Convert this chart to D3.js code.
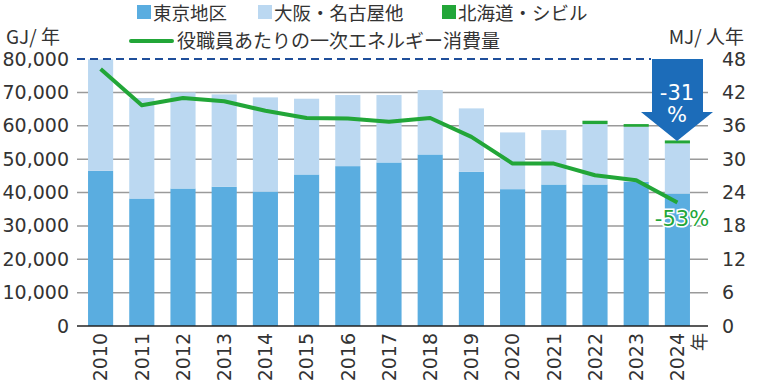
<!DOCTYPE html>
<html lang="ja">
<head>
<meta charset="UTF-8">
<title>エネルギー消費量</title>
<script src="https://d3js.org/d3.v7.min.js"></script>
<style>
    body { margin: 0; background: #fff; }
    svg text { font-family: 'DejaVu Sans', sans-serif; fill: #333; }
    .jp { font-family: 'Noto Sans CJK JP', sans-serif; }
</style>
</head>
<body>
<div id="chart"></div>
<script>
// data
const years = ["2010","2011","2012","2013","2014","2015","2016","2017","2018","2019","2020","2021","2022","2023","2024"];
const tokyo    = [46500, 38200, 41200, 41700, 40300, 45400, 47900, 49000, 51400, 46200, 41000, 42400, 42400, 43200, 39700];
const osaka    = [33400, 30100, 28800, 27700, 28200, 22700, 21300, 20200, 19300, 19000, 17000, 16300, 18100, 16500, 15000];
const hokkaido = [0, 0, 0, 0, 0, 0, 0, 0, 0, 0, 0, 0, 1000, 800, 900];
const perPerson = [46.2, 39.7, 41.0, 40.4, 38.7, 37.4, 37.3, 36.7, 37.4, 34.0, 29.2, 29.2, 27.1, 26.2, 22.2];
const leftTicks = [0, 10000, 20000, 30000, 40000, 50000, 60000, 70000, 80000];
const rightTicks = [0, 6, 12, 18, 24, 30, 36, 42, 48];
const seriesNames = ["東京地区", "大阪・名古屋他", "北海道・シビル"];
const lineName = "役職員あたりの一次エネルギー消費量";

const colors = ["#5aade0", "#bbd8f1", "#22a638"];
const lineColor = "#22a638";

const width = 760, height = 391;
const plotLeft = 77, plotRight = 708, plotTop = 59, plotBottom = 326;

const svg = d3.select("#chart").append("svg")
    .attr("width", width)
    .attr("height", height);

const x = d3.scaleBand().domain(years).range([80, 698]).paddingInner(0.39).paddingOuter(0.195);
const y = d3.scaleLinear().domain([0, 80000]).range([plotBottom, plotTop]);
const y2 = d3.scaleLinear().domain([0, 48]).range([plotBottom, plotTop]);

// grid lines
svg.append("g").selectAll("line")
    .data(leftTicks.filter(d => d > 0 && d < 80000))
    .join("line")
    .attr("x1", plotLeft).attr("x2", plotRight)
    .attr("y1", d => y(d)).attr("y2", d => y(d))
    .attr("stroke", "#9a9a9a").attr("stroke-width", 1.5);

// stacked bars
const rows = years.map((yr, i) => ({year: yr, tokyo: tokyo[i], osaka: osaka[i], hokkaido: hokkaido[i]}));
const stack = d3.stack().keys(["tokyo", "osaka", "hokkaido"])(rows);

svg.append("g").selectAll("g")
    .data(stack)
    .join("g")
    .attr("fill", (d, i) => colors[i])
    .selectAll("rect")
    .data(d => d)
    .join("rect")
    .attr("x", d => x(d.data.year))
    .attr("width", x.bandwidth())
    .attr("y", d => y(d[1]))
    .attr("height", d => y(d[0]) - y(d[1]));

// dashed 80,000 line (stops at the arrow)
svg.append("line")
    .attr("x1", plotLeft).attr("x2", 651)
    .attr("y1", y(80000)).attr("y2", y(80000))
    .attr("stroke", "#1f4e9a").attr("stroke-width", 2)
    .attr("stroke-dasharray", "8,5");

// bottom axis
const xAxis = svg.append("g")
    .attr("transform", `translate(0,${plotBottom})`)
    .call(d3.axisBottom(x).tickSize(0).tickPadding(0));
xAxis.select(".domain").remove();
xAxis.append("line")
    .attr("x1", plotLeft).attr("x2", plotRight)
    .attr("stroke", "#222").attr("stroke-width", 1.5);
xAxis.selectAll(".tick text")
    .attr("transform", "rotate(-90)")
    .attr("text-anchor", "end")
    .attr("x", -7)
    .attr("y", 0)
    .attr("dy", "0.36em")
    .style("font-size", "19px")
    .style("font-family", "'DejaVu Sans', sans-serif")
    .attr("fill", "#333");

svg.append("text").attr("class", "jp")
    .attr("transform", `translate(700,${plotBottom + 7}) rotate(-90)`)
    .attr("text-anchor", "end")
    .attr("dy", "0.36em")
    .style("font-size", "18px")
    .text("年");

// left axis
const yAxis = svg.append("g")
    .attr("transform", `translate(${plotLeft},0)`)
    .call(d3.axisLeft(y).tickValues(leftTicks).tickSize(0).tickPadding(8).tickFormat(d3.format(",")));
yAxis.select(".domain").remove();
yAxis.selectAll("text").style("font-size", "19px").style("font-family", "'DejaVu Sans', sans-serif").attr("fill", "#333");

// right axis
const y2Axis = svg.append("g")
    .attr("transform", `translate(${plotRight},0)`)
    .call(d3.axisRight(y2).tickValues(rightTicks).tickSize(0).tickPadding(14));
y2Axis.select(".domain").remove();
y2Axis.selectAll("text").style("font-size", "19px").style("font-family", "'DejaVu Sans', sans-serif").attr("fill", "#333");

// per-person line
const line = d3.line()
    .x((d, i) => x(years[i]) + x.bandwidth() / 2)
    .y(d => y2(d));
svg.append("path")
    .datum(perPerson)
    .attr("fill", "none")
    .attr("stroke", lineColor)
    .attr("stroke-width", 4)
    .attr("stroke-linejoin", "round")
    .attr("d", line);

// blue arrow -31%
const ax = 677;
svg.append("path")
    .attr("d", `M${ax - 25},${plotTop} L${ax + 26},${plotTop} L${ax + 26},112 L${ax + 36},112 L${ax},141 L${ax - 36},112 L${ax - 25},112 Z`)
    .attr("fill", "#1c6cb9");
svg.append("text")
    .attr("x", ax).attr("y", 100)
    .attr("text-anchor", "middle")
    .style("font-size", "21px")
    .style("fill", "#fff")
    .text("-31");
svg.append("text")
    .attr("x", ax).attr("y", 122)
    .attr("text-anchor", "middle")
    .style("font-size", "21px")
    .style("fill", "#fff")
    .text("%");

// -53% label
svg.append("text")
    .attr("x", 682).attr("y", 226)
    .attr("text-anchor", "middle")
    .style("font-size", "21px")
    .style("fill", lineColor)
    .attr("stroke", "#fff").attr("stroke-width", 3).attr("paint-order", "stroke")
    .text("-53%");

// axis titles
svg.append("text").attr("class", "jp")
    .attr("x", 6).attr("y", 44)
    .style("font-size", "19px")
    .text("GJ/ 年");
svg.append("text").attr("class", "jp")
    .attr("x", 744).attr("y", 44)
    .attr("text-anchor", "end")
    .style("font-size", "19px")
    .text("MJ/ 人年");

// legend
const legendX = [137, 258, 442];
const legend = svg.append("g");
seriesNames.forEach((name, i) => {
    legend.append("rect")
        .attr("x", legendX[i]).attr("y", 5)
        .attr("width", 14).attr("height", 14)
        .attr("fill", colors[i]);
    legend.append("text").attr("class", "jp")
        .attr("x", legendX[i] + 16).attr("y", 20)
        .style("font-size", "18.5px")
        .text(name);
});
legend.append("line")
    .attr("x1", 131).attr("x2", 172)
    .attr("y1", 41).attr("y2", 41)
    .attr("stroke", lineColor).attr("stroke-width", 4)
    .attr("stroke-linecap", "round");
legend.append("text").attr("class", "jp")
    .attr("x", 177).attr("y", 48)
    .style("font-size", "19px")
    .text(lineName);
</script>
</body>
</html>
